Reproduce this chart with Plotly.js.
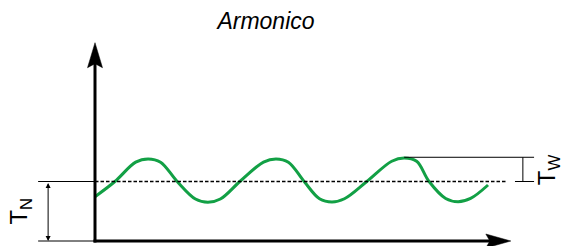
<!DOCTYPE html>
<html>
<head>
<meta charset="utf-8">
<script src="https://cdn.plot.ly/plotly-3.0.1.min.js"></script>
<style>html,body{margin:0;padding:0;background:#fff;}#chart{width:563px;height:246px;}</style>
</head>
<body>
<div id="chart"></div>
<script>
// Wave samples (time units, level units; TN level = 1)
const waveT = [0, 0.48, 0.98, 1.28, 1.58, 1.98, 2.42, 2.72, 3.02, 3.49,
               4.06, 4.36, 4.66, 5.04, 5.41, 5.71, 6.01, 6.55, 7.15, 7.45,
               7.75, 8.05, 8.45, 8.75, 9.05, 9.47];
const waveY = [0.745, 1.0, 1.325, 1.38, 1.325, 1.0, 0.705, 0.65, 0.705, 1.0,
               1.325, 1.38, 1.325, 1.0, 0.71, 0.655, 0.71, 1.0, 1.34, 1.395,
               1.34, 1.0, 0.715, 0.66, 0.715, 0.941];
// Reference levels
const levelTN = 1.0;      // dashed threshold level
const levelPeak = 1.407;  // TW upper level
const axisXEnd = 10.02;
const axisYEnd = 3.333;
const dashEnd = 9.93;
const titleText = 'Armonico';
const labelTN = 'T<sub>N</sub>';
const labelTW = 'T<sub>W</sub>';

const pxX = 41.5, pxY = 59.5; // pixels per unit (used for small offsets)

const wave = {
  x: waveT, y: waveY, type: 'scatter', mode: 'lines',
  line: {color: '#12a045', width: 3, shape: 'spline', smoothing: 1.0},
  hoverinfo: 'skip', showlegend: false
};

const blk = '#000';
const shapes = [
  // y axis
  {type:'line', xref:'x', yref:'y', x0:0, x1:0, y0:-1.5/pxY, y1:axisYEnd-20/pxY, line:{color:blk, width:3}},
  // x axis
  {type:'line', xref:'x', yref:'y', x0:-1.5/pxX, x1:axisXEnd-20/pxX, y0:0, y1:0, line:{color:blk, width:3}},
  // arrowheads (pixel-sized)
  {type:'path', xref:'x', yref:'y', xsizemode:'pixel', ysizemode:'pixel', xanchor:0, yanchor:axisYEnd,
   path:'M0,0 L-7.5,-25 L0,-21 L7.5,-25 Z', fillcolor:blk, line:{color:blk, width:0.5}},
  {type:'path', xref:'x', yref:'y', xsizemode:'pixel', ysizemode:'pixel', xanchor:axisXEnd, yanchor:0,
   path:'M0,0 L-25,7 L-21,0 L-25,-7 Z', fillcolor:blk, line:{color:blk, width:0.5}},
  // dashed threshold
  {type:'line', xref:'x', yref:'y', x0:0, x1:dashEnd, y0:levelTN, y1:levelTN, line:{color:blk, width:1.3, dash:'3.5px,2px'}},
  // TN guides
  {type:'line', xref:'x', yref:'y', x0:-1.37, x1:0, y0:levelTN, y1:levelTN, line:{color:blk, width:1}},
  {type:'line', xref:'x', yref:'y', x0:-1.37, x1:0, y0:0, y1:0, line:{color:blk, width:1}},
  // TW guides
  {type:'line', xref:'x', yref:'y', x0:7.45, x1:10.58, y0:levelPeak, y1:levelPeak, line:{color:blk, width:1}},
  {type:'line', xref:'x', yref:'y', x0:10.12, x1:10.58, y0:levelTN, y1:levelTN, line:{color:blk, width:1}},
  {type:'line', xref:'x', yref:'y', x0:10.31, x1:10.31, y0:levelTN, y1:levelPeak, line:{color:blk, width:1}}
];

const annotations = [
  // TN double arrow
  {x:-1.13, y:0, ax:-1.13, ay:levelTN, xref:'x', yref:'y', axref:'x', ayref:'y', text:'', showarrow:true,
   arrowhead:2, startarrowhead:2, arrowside:'end+start', arrowsize:1, startarrowsize:1, arrowwidth:1, arrowcolor:blk},
  {x:-1.80, y:0.5, xref:'x', yref:'y', text:labelTN, showarrow:false, textangle:-90,
   font:{family:'Liberation Sans, Arial, sans-serif', size:24, color:blk}},
  {x:10.93, y:1.2, xref:'x', yref:'y', text:labelTW, showarrow:false, textangle:-90,
   font:{family:'Liberation Sans, Arial, sans-serif', size:24, color:blk}}
];

const layout = {
  width:563, height:246,
  margin:{l:0, r:0, t:0, b:0, pad:0},
  paper_bgcolor:'#fff', plot_bgcolor:'#fff',
  title:{text:titleText, x:266/563, xanchor:'center', xref:'paper', y:1-21/246, yanchor:'middle', yref:'container',
         font:{family:'Liberation Sans, Arial, sans-serif', size:23, style:'italic', color:blk}},
  xaxis:{visible:false, range:[-95/pxX, (563-95)/pxX], fixedrange:true},
  yaxis:{visible:false, range:[-5/pxY, 241/pxY], fixedrange:true},
  shapes:shapes, annotations:annotations, showlegend:false
};

Plotly.newPlot('chart', [wave], layout, {staticPlot:true, displayModeBar:false});
</script>
</body>
</html>
